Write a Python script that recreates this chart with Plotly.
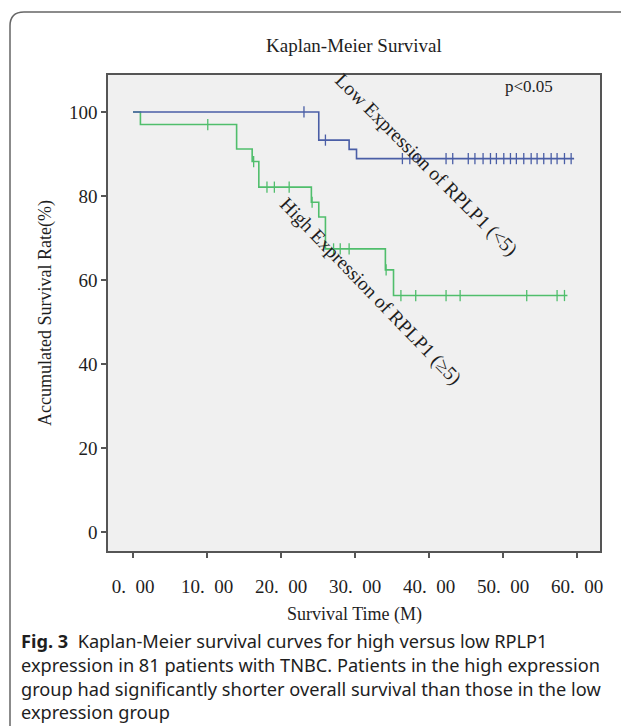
import plotly.graph_objects as go

# ---------------- data ----------------
low_times = [0, 25.1, 29.2, 30.2, 59.6]
low_surv = [100, 93.3, 91.1, 88.9, 88.9]
low_cens_t = [23.1, 26.0, 36.4, 37.4, 38.5, 42.3, 43.2, 45.3, 46.2, 47.3, 48.3, 49.1,
              50.1, 51.0, 51.8, 52.8, 53.8, 54.6, 55.5, 56.5, 57.3, 58.3, 59.2]
low_cens_v = [100, 93.3] + [88.9] * 21

high_times = [0, 1.0, 14.0, 16.1, 17.0, 24.1, 25.1, 26.0, 34.1, 35.2, 58.7]
high_surv = [100, 97.0, 91.2, 88.2, 82.1, 78.5, 75.0, 67.4, 62.4, 56.3, 56.3]
high_cens_t = [10.1, 16.3, 18.1, 19.1, 21.1, 24.2, 27.1, 28.0, 29.2, 34.2,
               36.2, 38.2, 42.3, 44.2, 53.2, 57.3, 58.3]
high_cens_v = [97.0, 88.2, 82.1, 82.1, 82.1, 78.5, 67.4, 67.4, 67.4, 62.4,
               56.3, 56.3, 56.3, 56.3, 56.3, 56.3, 56.3]

x_ticks = [0, 10, 20, 30, 40, 50, 60]
x_tick_text = ["0.\u00a0\u00a000", "10.\u00a0\u00a000", "20.\u00a0\u00a000",
               "30.\u00a0\u00a000", "40.\u00a0\u00a000", "50.\u00a0\u00a000",
               "60.\u00a0\u00a000"]
y_ticks = [0, 20, 40, 60, 80, 100]

BLUE = "#4a5ea6"
GREEN = "#50be6c"

# ---------------- layout geometry (pixels) ----------------
W, H = 629, 726
ML, MR, MT, MB = 100, 37, 67, 183
PW, PH = W - ML - MR, H - MT - MB


def px(x):
    return (x - ML) / PW


def py(y):
    return (H - MB - y) / PH


fig = go.Figure()

fig.add_trace(go.Scatter(x=high_times, y=high_surv, mode="lines", line_shape="hv",
                         line=dict(color=GREEN, width=1.6), hoverinfo="skip"))
fig.add_trace(go.Scatter(x=high_cens_t, y=high_cens_v, mode="markers",
                         marker=dict(symbol="line-ns", size=8,
                                     line=dict(color=GREEN, width=1.3)),
                         hoverinfo="skip"))
fig.add_trace(go.Scatter(x=low_times, y=low_surv, mode="lines", line_shape="hv",
                         line=dict(color=BLUE, width=1.6), hoverinfo="skip"))
fig.add_trace(go.Scatter(x=low_cens_t, y=low_cens_v, mode="markers",
                         marker=dict(symbol="line-ns", size=8,
                                     line=dict(color=BLUE, width=1.3)),
                         hoverinfo="skip"))

serif = "Liberation Serif"
TXT = "#1e1e1e"

fig.update_layout(
    width=W, height=H,
    margin=dict(l=ML, r=MR, t=MT, b=MB),
    paper_bgcolor="white",
    plot_bgcolor="#f0f0f0",
    showlegend=False,
    font=dict(family=serif, color=TXT, size=16),
    xaxis=dict(range=[-3.38, 63.1], tickvals=x_ticks, ticktext=x_tick_text,
               showgrid=False, zeroline=False, showline=True, mirror=True,
               linecolor="#555", linewidth=1.5, ticks="outside", ticklen=5,
               tickwidth=1.5, tickcolor="#555", ticklabelstandoff=12,
               tickfont=dict(family=serif, size=19, color=TXT)),
    yaxis=dict(range=[-4.52, 108.8], tickvals=y_ticks,
               showgrid=False, zeroline=False, showline=True, mirror=True,
               linecolor="#555", linewidth=1.5, ticks="outside", ticklen=5,
               tickwidth=1.5, tickcolor="#555",
               tickfont=dict(family=serif, size=19, color=TXT)),
)

# outer rounded frame
x0, x1, y0, y1, r = 2, 628, 4, 760, 14
path = (f"M {px(x0 + r)} {py(y0)} L {px(x1 - r)} {py(y0)} "
        f"Q {px(x1)} {py(y0)} {px(x1)} {py(y0 + r)} L {px(x1)} {py(y1)} "
        f"M {px(x0)} {py(y1)} L {px(x0)} {py(y0 + r)} "
        f"Q {px(x0)} {py(y0)} {px(x0 + r)} {py(y0)}")
fig.add_shape(type="path", path=path, xref="paper", yref="paper",
              line=dict(color="#666", width=1.5))


def note(text, x, y, size, angle=0, family=serif, xanchor="center"):
    return dict(text=text, x=px(x), y=py(y), xref="paper", yref="paper",
                xanchor=xanchor, yanchor="middle", showarrow=False,
                textangle=angle, font=dict(family=family, size=size, color=TXT))


ann = [
    note("Kaplan-Meier Survival", 346, 37, 19),
    note("p<0.05", 521, 78, 17),
    note("Low Expression of RPLP1 (<5)", 418, 157, 19.5, 45),
    note("High Expression of RPLP1 (≥5)", 362, 283, 19.5, 46),
    note("Accumulated Survival Rate(%)", 37, (MT + H - MB) / 2, 18, -90),
    note("Survival Time (M)", 346, 606, 18),
]

cap_lines = [
    "<b>Fig. 3</b>  Kaplan-Meier survival curves for high versus low RPLP1",
    "expression in 81 patients with TNBC. Patients in the high expression",
    "group had significantly shorter overall survival than those in the low",
    "expression group",
]
cap_y = [633, 657, 681, 704]
for t, yy in zip(cap_lines, cap_y):
    ann.append(note(t, 11, yy, 18.2, family="Noto Sans", xanchor="left"))

fig.update_layout(annotations=ann)

fig.write_html("out.html")
